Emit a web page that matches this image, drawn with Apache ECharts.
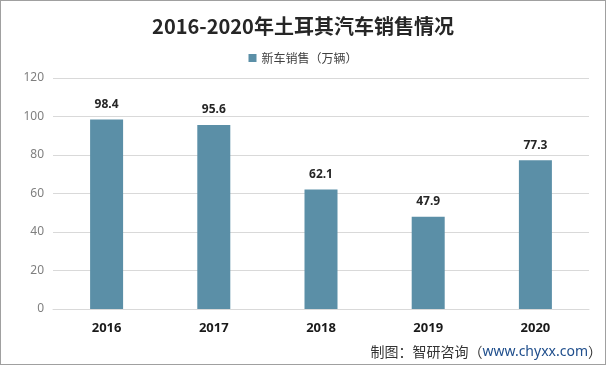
<!DOCTYPE html>
<html><head><meta charset="utf-8">
<script src="https://cdn.jsdelivr.net/npm/echarts@6/dist/echarts.min.js"></script>
<style>html,body{margin:0;padding:0;background:#fff;}#c{width:606px;height:365px;box-sizing:border-box;border:1px solid #a0a0a0;}</style>
</head><body><div id="c"></div>
<script>
const categories = ['2016','2017','2018','2019','2020'];
const sales = [98.4, 95.6, 62.1, 47.9, 77.3];
const seriesName = '新车销售（万辆）';
const titleText = '2016-2020年土耳其汽车销售情况';
const sourceText = '制图：智研咨询（';
const sourceUrl = 'www.chyxx.com';

const chart = echarts.init(document.getElementById('c'), null, {renderer:'canvas'});
chart.setOption({
  animation:false,
  title:{text:titleText, left:'center', top:10,
    textStyle:{fontSize:20, fontWeight:'bold', color:'#262626', fontFamily:'"Noto Sans CJK SC", sans-serif'}},
  legend:{top:46, left:'center', itemWidth:8, itemHeight:8, icon:'rect', itemGap:5,
    textStyle:{fontSize:12, color:'#404040', fontFamily:'"Noto Sans CJK SC", sans-serif'}},
  grid:{left:52, right:16, top:77, bottom:55},
  xAxis:{type:'category', data:categories,
    axisLine:{lineStyle:{color:'#d9d9d9'}}, axisTick:{show:false},
    axisLabel:{fontSize:13, fontWeight:'bold', color:'#1a1a1a', margin:13, fontFamily:'"Noto Sans", sans-serif'}},
  yAxis:{type:'value', min:0, max:120, interval:20,
    axisLine:{show:false}, axisTick:{show:false},
    splitLine:{lineStyle:{color:'#d9d9d9'}},
    axisLabel:{fontSize:12, color:'#7f7f7f', margin:9, fontFamily:'"Noto Sans", sans-serif'}},
  series:[{name:seriesName, type:'bar', data:sales, barWidth:33,
    itemStyle:{color:'#5b8fa7'},
    label:{show:true, position:'top', distance:9, fontSize:12, fontWeight:'bold', color:'#262626', fontFamily:'"Noto Sans", sans-serif'}}],
  graphic:[{type:'text', right:3, bottom:5,
    style:{rich:{a:{fontSize:14, fill:'#333', fontFamily:'"Noto Sans CJK SC", sans-serif'},
                 b:{fontSize:14, fill:'#1f4e8c', fontFamily:'"Noto Sans", sans-serif'}},
      text:'{a|'+sourceText+'}{b|'+sourceUrl+'}{a|）}'}}]
});
</script></body></html>
